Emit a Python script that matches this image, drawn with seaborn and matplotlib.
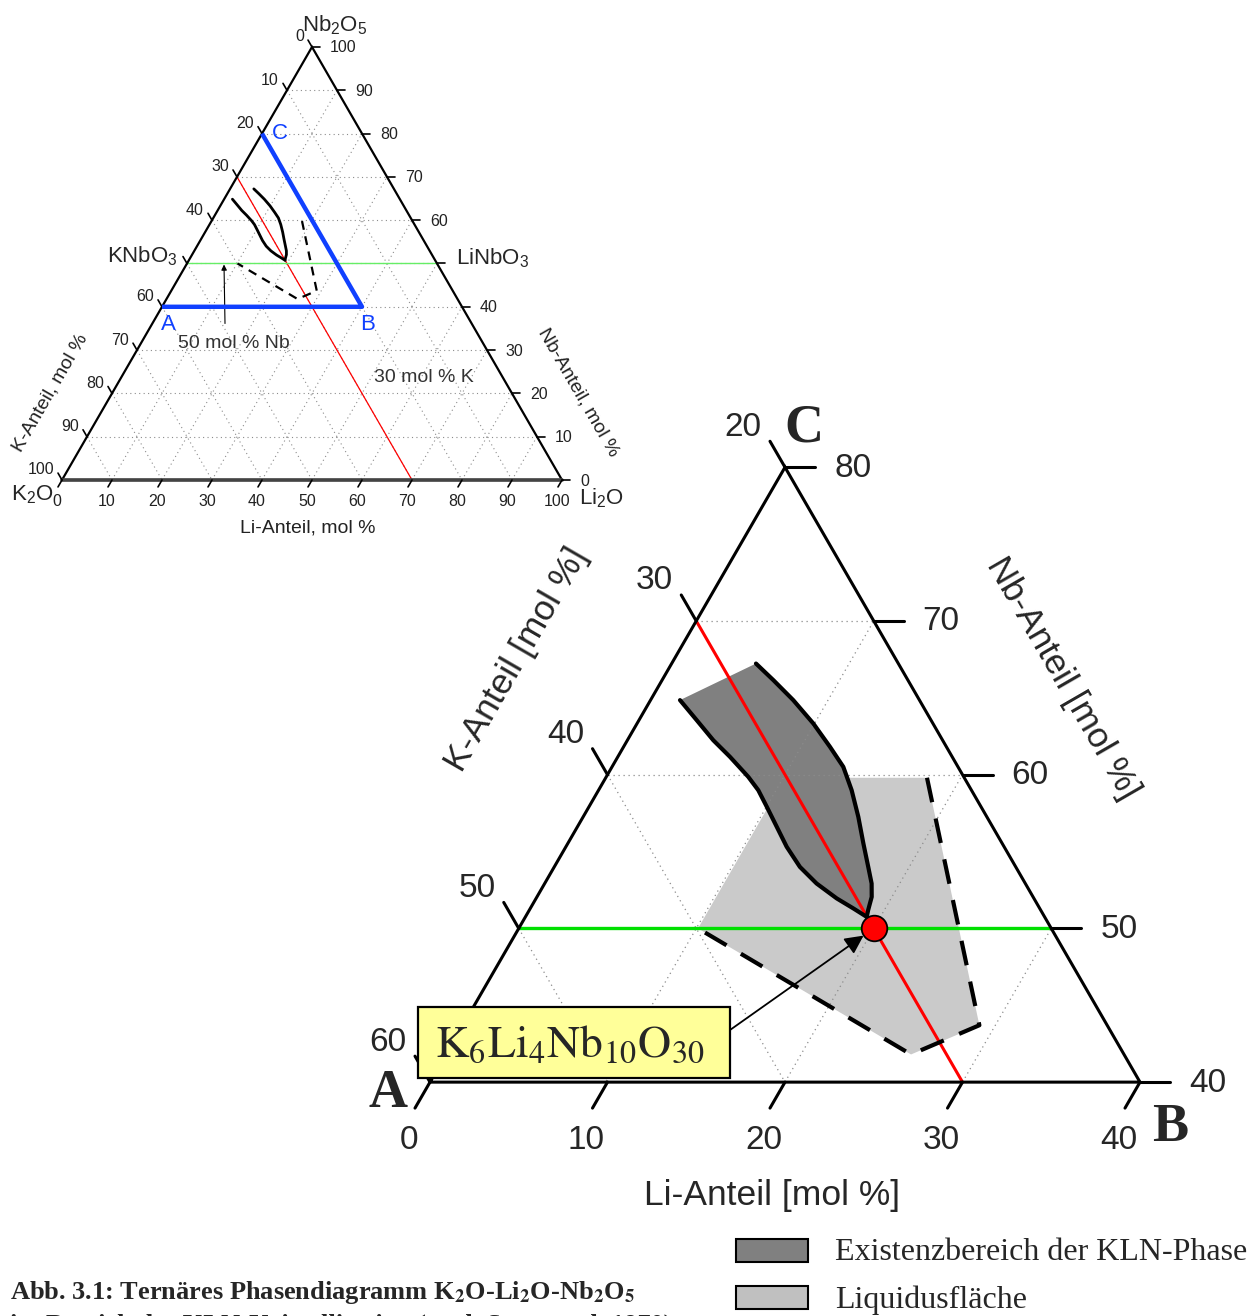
import numpy as np
import pandas as pd
import seaborn as sns
import matplotlib.pyplot as plt
from matplotlib import patches, font_manager

# ---------------------------------------------------------------- data
# compositions are given as (Li-Anteil, Nb-Anteil) in mol %, K = 100 - Li - Nb
kln_left_li = [1.66, 3.26, 4.84, 6.32, 8.00, 9.00, 10.02, 11.23, 12.44, 13.84,
               15.32, 16.94, 18.20, 19.23]
kln_left_nb = [64.85, 63.54, 62.24, 61.16, 59.86, 58.99, 57.91, 56.61, 55.31, 54.00,
               52.92, 51.95, 51.30, 50.75]
kln_right_li = [4.75, 6.27, 8.04, 9.93, 11.63, 13.03, 14.26, 15.50, 16.65, 17.69,
                18.42, 18.86, 19.09, 19.23]
kln_right_nb = [67.23, 66.15, 64.85, 63.33, 61.81, 60.51, 58.99, 57.26, 55.53, 54.00,
                52.92, 52.05, 51.19, 50.75]

liq_li = [10.1, 10.1, 18.1, 29.1, 26.2]
liq_nb = [50.0, 59.8, 59.8, 43.7, 41.8]

# stoichiometric K6Li4Nb10O30: 30 % K, 20 % Li, 50 % Nb
kln_point_li = 20.0
kln_point_nb = 50.0

# section A-B-C
sec_li = [0, 40, 0]
sec_nb = [40, 40, 80]
sec_names = ["A", "B", "C"]

k_line = 30      # 30 mol % K
nb_line = 50     # 50 mol % Nb

full_ticks = list(range(0, 101, 10))
big_li_ticks = [0, 10, 20, 30, 40]
big_k_ticks = [20, 30, 40, 50, 60]
big_nb_ticks = [40, 50, 60, 70, 80]

legend_labels = ["Existenzbereich der KLN-Phase", "Liquidusfläche"]

# ---------------------------------------------------------------- style
sns.set_theme(style="white")
plt.rcParams["font.family"] = ["Liberation Sans", "DejaVu Sans"]
plt.rcParams["mathtext.fontset"] = "custom"
plt.rcParams["mathtext.rm"] = "Liberation Sans"
plt.rcParams["mathtext.it"] = "Liberation Sans:italic"
plt.rcParams["mathtext.bf"] = "Liberation Sans:bold"

installed = {f.name for f in font_manager.fontManager.ttflist}
NARROW = "Liberation Sans Narrow" if "Liberation Sans Narrow" in installed else "Liberation Sans"
SERIF = "Liberation Serif"

DARK = "#808080"
LIGHT = "#CACACA"
RED = "#FF0000"
GREEN = "#00E000"
BLUE = "#1040FF"
GRID = "#8C8C8C"

W, H = 1258, 1316
fig = plt.figure(figsize=(W / 100, H / 100), dpi=100)
ax = fig.add_axes([0, 0, 1, 1])
ax.set_xlim(0, W)
ax.set_ylim(H, 0)
ax.axis("off")

SQ = np.sqrt(3) / 2
SMALL = (62.0, 480.0, 5.0)      # K2O corner position and scale of the full diagram
BIG = (75.0, 1697.0, 17.75)     # enlarged section A-B-C


def tern(li, nb, frame):
    x0, y0, s = frame
    li = np.asarray(li, float)
    nb = np.asarray(nb, float)
    return x0 + s * (li + nb / 2), y0 - s * SQ * nb


def seg(p, q, frame, **kw):
    x, y = tern([p[0], q[0]], [p[1], q[1]], frame)
    ax.plot(x, y, **kw)


# ================================================================ small diagram
# dotted grid
for v in range(10, 100, 10):
    gk = dict(color=GRID, lw=0.8, ls=(0, (1, 3)), zorder=1)
    seg((0, v), (100 - v, v), SMALL, **gk)
    seg((v, 0), (v, 100 - v), SMALL, **gk)
    seg((0, 100 - v), (100 - v, 0), SMALL, **gk)

# frame
tx, ty = tern([0, 100, 0, 0], [0, 0, 100, 0], SMALL)
ax.plot(tx, ty, color="black", lw=1.6, zorder=5, solid_joinstyle="miter")
ax.plot(tx[:2], ty[:2], color="#444444", lw=2.6, zorder=5)

# ticks and tick labels
L = 8
for v in full_ticks:
    # Li (bottom)
    x, y = tern(v, 0, SMALL)
    ax.plot([x, x - 0.5 * L], [y, y + SQ * L], color="black", lw=1.2, zorder=5)
    ax.text(x - 5, y + 22, str(v), ha="center", va="center", fontsize=11.5,
            family=NARROW, color="#222222")
    # K (left)
    x, y = tern(0, 100 - v, SMALL)
    ax.plot([x, x - 0.5 * L], [y, y - SQ * L], color="black", lw=1.2, zorder=5)
    if v != 50:
        ax.text(x - 8, y - 10, str(v), ha="right", va="center", fontsize=11.5,
                family=NARROW, color="#222222")
    # Nb (right)
    x, y = tern(100 - v, v, SMALL)
    ax.plot([x, x + L], [y, y], color="black", lw=1.2, zorder=5)
    if v != 50:
        ax.text(x + 18, y + 1, str(v), ha="left", va="center", fontsize=11.5,
                family=NARROW, color="#222222")

# guide lines 30 mol % K and 50 mol % Nb
x, y = tern([0, 100 - k_line], [100 - k_line, 0], SMALL)
ax.plot(x, y, color=RED, lw=0.9, zorder=3)
x, y = tern([0, 100 - nb_line], [nb_line, nb_line], SMALL)
ax.plot(x, y, color="#66EE66", lw=1.0, zorder=3)

# section A-B-C
x, y = tern(sec_li, sec_nb, SMALL)
ax.plot(x, y, color=BLUE, lw=3.2, zorder=6, solid_capstyle="butt")
for xi, yi, n, dx, dy in zip(x, y, sec_names, [6, 6, 18], [18, 18, 0]):
    ax.text(xi + dx, yi + dy, n, color=BLUE, fontsize=16, ha="center", va="center")

# KLN boundaries and liquidus outline
x, y = tern(kln_left_li, kln_left_nb, SMALL)
ax.plot(x, y, color="black", lw=2.0, zorder=6, solid_capstyle="round")
x, y = tern(kln_right_li, kln_right_nb, SMALL)
ax.plot(x, y, color="black", lw=2.0, zorder=6, solid_capstyle="round")
dl = [liq_li[i] for i in (2, 3, 4, 0)]
dn = [liq_nb[i] for i in (2, 3, 4, 0)]
x, y = tern(dl, dn, SMALL)
ax.plot(x, y, color="black", lw=1.6, ls=(0, (4, 3)), zorder=6)

# labels of the small diagram
ax.text(335, 25, r"Nb$_\mathrm{2}$O$_\mathrm{5}$", fontsize=16, ha="center", va="center",
        math_fontfamily="custom")
ax.text(32, 495, r"K$_\mathrm{2}$O", fontsize=16, ha="center", va="center",
        math_fontfamily="custom")
ax.text(601, 498, r"Li$_\mathrm{2}$O", fontsize=16, ha="center", va="center",
        math_fontfamily="custom")
ax.text(142, 256, r"KNbO$_\mathrm{3}$", fontsize=16, ha="center", va="center",
        math_fontfamily="custom")
ax.text(493, 258, r"LiNbO$_\mathrm{3}$", fontsize=16, ha="center", va="center",
        math_fontfamily="custom")
ax.text(308, 528, "Li-Anteil, mol %", fontsize=14, ha="center", va="center",
        family=NARROW, color="#222222")
ax.text(50, 393, "K-Anteil, mol %", fontsize=14, ha="center", va="center",
        rotation=60, family=NARROW, color="#222222")
ax.text(578, 392, "Nb-Anteil, mol %", fontsize=14, ha="center", va="center",
        rotation=-60, family=NARROW, color="#222222")
ax.text(234, 344, "50 mol % Nb", fontsize=14, ha="center", va="center",
        family=NARROW, color="#333333")
ax.text(424, 378, "30 mol % K", fontsize=14, ha="center", va="center",
        family=NARROW, color="#333333")
gx, gy = tern(7.4, nb_line, SMALL)
ax.annotate("", xy=(float(gx), float(gy) + 1), xytext=(float(gx) + 1, float(gy) + 60),
            arrowprops=dict(arrowstyle="-|>", color="black", lw=0.8,
                            mutation_scale=8, shrinkA=0, shrinkB=0))

# ================================================================ enlarged section
# liquidus surface and KLN existence region
x, y = tern(liq_li, liq_nb, BIG)
ax.fill(x, y, color=LIGHT, lw=0, zorder=1)
poly_li = kln_left_li + kln_right_li[::-1]
poly_nb = kln_left_nb + kln_right_nb[::-1]
x, y = tern(poly_li, poly_nb, BIG)
ax.fill(x, y, color=DARK, lw=0, zorder=2)

# dotted grid inside the section
gk = dict(color=GRID, lw=0.9, ls=(0, (1, 3)), zorder=3)
for v in (50, 60, 70):
    seg((0, v), (80 - v, v), BIG, **gk)
for v in (10, 20, 30):
    seg((v, 40), (v, 80 - v), BIG, **gk)
for v in (30, 40, 50):
    seg((0, 100 - v), (60 - v, 40), BIG, **gk)

# guide lines
x, y = tern([0, 100 - k_line - 40], [100 - k_line, 40], BIG)
sns.lineplot(x=x, y=y, sort=False, estimator=None, color=RED, lw=2.2, ax=ax, zorder=4)
x, y = tern([0, 80 - nb_line], [nb_line, nb_line], BIG)
sns.lineplot(x=x, y=y, sort=False, estimator=None, color=GREEN, lw=2.4, ax=ax, zorder=4)

# KLN boundaries
for li, nb in ((kln_left_li, kln_left_nb), (kln_right_li, kln_right_nb)):
    x, y = tern(li, nb, BIG)
    ax.plot(x, y, color="black", lw=3.0, zorder=5, solid_capstyle="round",
            solid_joinstyle="round")

# liquidus outline (dashed)
x, y = tern(dl, dn, BIG)
ax.plot(x, y, color="black", lw=3.0, ls=(0, (6, 4)), zorder=5)

# section frame
x, y = tern(sec_li + [0], sec_nb + [40], BIG)
ax.plot(x, y, color="black", lw=2.2, zorder=6, solid_joinstyle="miter")

# ticks and tick labels
L = 30
fs = 24
for v in big_li_ticks:
    x, y = tern(v, 40, BIG)
    ax.plot([x, x - 0.5 * L], [y, y + SQ * L], color="black", lw=2.2, zorder=6)
    ax.text(x - 21, y + 58, str(v), ha="center", va="center", fontsize=fs)
for v in big_k_ticks:
    x, y = tern(0, 100 - v, BIG)
    ax.plot([x, x - 0.5 * L], [y, y - SQ * L], color="black", lw=2.2, zorder=6)
    ax.text(x - 42, y - 40, str(v), ha="center", va="center", fontsize=fs)
for v in big_nb_ticks:
    x, y = tern(80 - v, v, BIG)
    ax.plot([x, x + L], [y, y], color="black", lw=2.2, zorder=6)
    ax.text(x + 49, y + 1, str(v), ha="left", va="center", fontsize=fs)

fl = 25.5
ax.text(517, 660, "K-Anteil [mol %]", fontsize=fl, rotation=60, ha="center", va="center")
ax.text(1063, 678, "Nb-Anteil [mol %]", fontsize=fl, rotation=-60, ha="center", va="center")
ax.text(772, 1195, "Li-Anteil [mol %]", fontsize=fl, ha="center", va="center")

# corner letters
x, y = tern(sec_li, sec_nb, BIG)
for xi, yi, n, dx, dy in zip(x, y, sec_names, [-42, 30, 19], [12, 46, -39]):
    ax.text(xi + dx, yi + dy, n, fontsize=39, family=SERIF, fontweight="bold",
            ha="center", va="center")

# KLN composition point
px, py = tern(kln_point_li, kln_point_nb, BIG)
sns.scatterplot(x=[float(px)], y=[float(py)], s=340, color=RED, edgecolor="black",
                linewidth=1.3, ax=ax, zorder=8, legend=False)

# label box with arrow
ax.add_patch(patches.Rectangle((418, 1007), 312, 71, facecolor="#FFFF99",
                               edgecolor="black", lw=1.6, zorder=9))
ax.text(570, 1045, r"$\mathrm{K_6Li_4Nb_{10}O_{30}}$", fontsize=33, ha="center",
        va="center", math_fontfamily="stix", zorder=10)
ax.annotate("", xy=(float(px), float(py)), xytext=(730, 1030),
            arrowprops=dict(arrowstyle="-|>", color="black", lw=1.3,
                            mutation_scale=28, shrinkA=0, shrinkB=9), zorder=7)

# legend
for (y0, fc), lab in zip([(1239, DARK), (1286, "#C0C0C0")], legend_labels):
    ax.add_patch(patches.Rectangle((736, y0), 72, 23, facecolor=fc, edgecolor="black",
                                   lw=1.5, zorder=9))
    ax.text(835, y0 + 14, lab, fontsize=23, family=SERIF, ha="left", va="center")

# caption
ax.text(10, 1293,
        r"Abb. 3.1: Ternäres Phasendiagramm K$_\mathbf{2}$O-Li$_\mathbf{2}$O-Nb$_\mathbf{2}$O$_\mathbf{5}$",
        fontsize=19, family=SERIF, fontweight="bold", ha="left", va="center",
        math_fontfamily="stix")
ax.text(10, 1325, "im Bereich der KLN-Kristallisation (nach Scott et al. 1970)",
        fontsize=19, family=SERIF, fontweight="bold", ha="left", va="center")

fig.savefig("out.png", dpi=100)
